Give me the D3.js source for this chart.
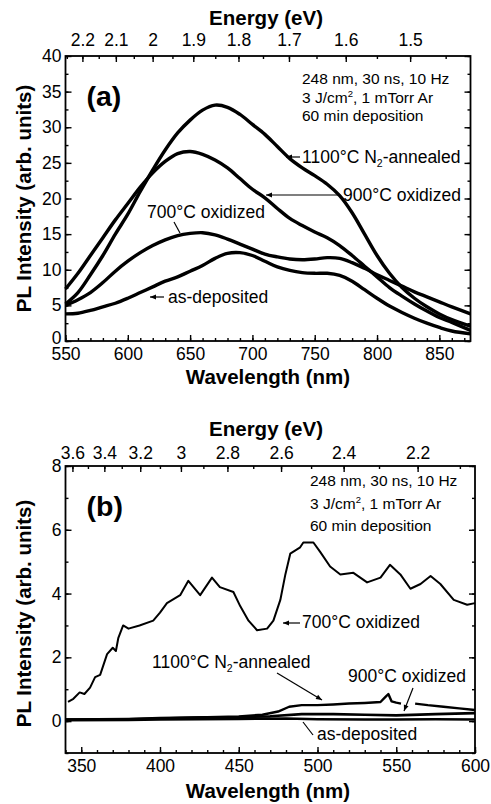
<!DOCTYPE html>
<html><head><meta charset="utf-8">
<script src="https://cdn.jsdelivr.net/npm/d3@7"></script>
<style>
body{margin:0;background:#fff;}
svg{display:block;font-family:"Liberation Sans",Arial,sans-serif;}
</style></head>
<body><svg id="c" width="491" height="804"></svg>
<script>
// ---------- Panel (a) data ----------
const aWavelengths = [550,560,570,580,590,600,610,620,630,640,650,660,670,680,690,700,710,720,730,740,750,760,770,780,790,800,810,820,830,840,850,860,875];
const a1100 = [5.2,6.8,9.3,12,15,17.8,21,24,26.8,29.2,31,32.4,33.1,32.8,31.8,30.4,29,27.3,25.6,24.3,23.2,22,20.4,18,15,12,9.5,7.5,6,4.8,3.8,3,2.1];
const a900  = [7.3,9.5,12,14.5,17,19.3,21.6,23.6,25.2,26.3,26.6,26.2,25.4,24.3,22.8,21.3,20.1,18.6,17.2,16.2,15.3,14.5,13.4,12,10.5,9,7.5,6.3,5.2,4.2,3.3,2.6,1.5];
const a700  = [5.0,5.8,6.8,8.2,9.8,11.2,12.4,13.4,14.2,14.8,15.1,15.2,14.9,14.3,13.6,12.9,12.2,11.8,11.5,11.4,11.5,11.7,11.6,11.0,10.2,9.3,8.5,7.7,6.9,6.2,5.5,4.8,3.8];
const aAsDep= [3.8,3.9,4.3,4.8,5.3,6.0,6.8,7.6,8.4,9.0,9.8,10.6,11.6,12.3,12.4,12.0,11.2,10.4,9.9,9.6,9.5,9.5,9.2,8.4,7.2,6.0,4.9,4.0,3.2,2.5,1.9,1.4,1.0];
const aXTicks = [550,600,650,700,750,800,850];
const aYTicks = [0,5,10,15,20,25,30,35,40];
const aETicks = [2.2,2.1,2.0,1.9,1.8,1.7,1.6,1.5];
const aELabels = ["2.2","2.1","2","1.9","1.8","1.7","1.6","1.5"];

// ---------- Panel (b) data ----------
const b700W = [341.6,345,349,352,355.6,358.8,362,366.4,370,372,373.5,376.6,380,387,395.7,400,404.4,412.8,418,425.5,433,438,446.6,451,456.2,461.6,468,472,476.4,479.6,482.7,489,491,497.4,501.8,508,514.5,522.8,531.5,540,546,552.6,559,565.4,571.8,578,586.5,595,600];
const b700V = [0.6,0.7,0.9,0.85,1.05,1.38,1.45,2.1,2.3,2.2,2.6,3.0,2.9,3.0,3.15,3.4,3.7,3.95,4.4,3.95,4.5,4.2,4.05,3.6,3.15,2.85,2.9,3.15,3.8,4.6,5.25,5.45,5.6,5.6,5.3,4.85,4.6,4.65,4.35,4.5,4.9,4.6,4.15,4.3,4.55,4.3,3.8,3.65,3.7];
const b1100W = [340,380,400,430,450,465,475,482,490,500,510,520,530,540,543,545,547,550,553,557,562,570,580,590,600];
const b1100V = [0.05,0.07,0.1,0.12,0.15,0.2,0.3,0.45,0.5,0.5,0.52,0.55,0.57,0.6,0.75,0.85,0.62,0.58,0.55,null,0.55,0.5,0.45,0.4,0.35];
const b900W = [340,380,400,430,450,470,490,510,530,550,575,600];
const b900V = [0.05,0.06,0.08,0.12,0.12,0.15,0.22,0.22,0.2,0.18,0.22,0.25];
const bAsDepW = [340,380,400,450,480,500,530,550,575,600];
const bAsDepV = [0.03,0.04,0.05,0.07,0.08,0.06,0.05,0.05,0.06,0.05];
const bXTicks = [350,400,450,500,550,600];
const bYTicks = [0,2,4,6,8];
const bETicks = [3.6,3.4,3.2,3.0,2.8,2.6,2.4,2.2];
const bELabels = ["3.6","3.4","3.2","3","2.8","2.6","2.4","2.2"];

const HC = 1239.84;
const svg = d3.select("#c");
const FONT = "'Liberation Sans', Arial, sans-serif";
const TICKFS = 17.5, LABFS = 17.5, TITLEFS = 20.5;

function panel(cfg){
  const x = d3.scaleLinear().domain(cfg.xDom).range([cfg.left, cfg.right]);
  const y = d3.scaleLinear().domain(cfg.yDom).range([cfg.bottom, cfg.top]);
  const g = svg.append("g");

  const styleAxis = sel => {
    sel.select(".domain").remove();
    sel.selectAll("line").attr("stroke","#000").attr("stroke-width",1.4);
    sel.selectAll("text").attr("font-size",TICKFS).attr("font-family",FONT).attr("fill","#000");
  };
  // bottom axis
  g.append("g").attr("transform",`translate(0,${cfg.bottom})`)
    .call(d3.axisBottom(x).tickValues(cfg.xMinor).tickSize(-3).tickFormat(""))
    .call(styleAxis);
  g.append("g").attr("transform",`translate(0,${cfg.bottom})`)
    .call(d3.axisBottom(x).tickValues(cfg.xTicks).tickSize(-6).tickPadding(7).tickFormat(d3.format("d")))
    .call(styleAxis);
  // top energy axis
  const eL = cfg.eTicks.map(e=>HC/e);
  const eMinor = cfg.eMinor.map(e=>HC/e).filter(l=>l>=cfg.xDom[0]&&l<=cfg.xDom[1]);
  g.append("g").attr("transform",`translate(0,${cfg.top})`)
    .call(d3.axisTop(x).tickValues(eMinor).tickSize(-3).tickFormat(""))
    .call(styleAxis);
  g.append("g").attr("transform",`translate(0,${cfg.top})`)
    .call(d3.axisTop(x).tickValues(eL).tickSize(-6).tickPadding(cfg.ePad).tickFormat((d,i)=>cfg.eLabels[i]))
    .call(styleAxis);
  // left axis
  g.append("g").attr("transform",`translate(${cfg.left},0)`)
    .call(d3.axisLeft(y).tickValues(cfg.yMinor).tickSize(-3).tickFormat(""))
    .call(styleAxis);
  g.append("g").attr("transform",`translate(${cfg.left},0)`)
    .call(d3.axisLeft(y).tickValues(cfg.yTicks).tickSize(-6).tickPadding(4).tickFormat(d3.format("d")))
    .call(styleAxis)
    .call(sel => sel.selectAll(".tick text").filter(d => d === cfg.yDom[0]).attr("dy","0.12em"));
  // right axis
  g.append("g").attr("transform",`translate(${cfg.right},0)`)
    .call(d3.axisRight(y).tickValues(cfg.yMinor).tickSize(-3).tickFormat(""))
    .call(styleAxis);
  g.append("g").attr("transform",`translate(${cfg.right},0)`)
    .call(d3.axisRight(y).tickValues(cfg.yTicks).tickSize(-6).tickFormat(""))
    .call(styleAxis);
  // frame
  g.append("rect").attr("x",cfg.left).attr("y",cfg.top)
    .attr("width",cfg.right-cfg.left).attr("height",cfg.bottom-cfg.top)
    .attr("fill","none").attr("stroke","#000").attr("stroke-width",1.8);

  // axis titles
  g.append("text").attr("x",268).attr("y",cfg.xTitleY)
    .attr("text-anchor","middle").attr("font-size",TITLEFS).attr("font-weight","bold")
    .attr("font-family",FONT).text("Wavelength (nm)");
  g.append("text").attr("x",266).attr("y",cfg.eTitleY)
    .attr("text-anchor","middle").attr("font-size",TITLEFS).attr("font-weight","bold")
    .attr("font-family",FONT).text("Energy (eV)");
  g.append("text").attr("transform",`translate(31,${(cfg.top+cfg.bottom)/2+cfg.yTitleShift}) rotate(-90)`)
    .attr("text-anchor","middle").attr("font-size",TITLEFS).attr("font-weight","bold")
    .attr("font-family",FONT).text("PL Intensity (arb. units)");
  // panel letter
  g.append("text").attr("x",cfg.left+21).attr("y",cfg.top+50)
    .attr("font-size",28.5).attr("font-weight","bold").attr("font-family",FONT).text(cfg.letter);
  // conditions
  g.append("text").attr("font-size",15.5).attr("font-family",FONT)
    .attr("x",cfg.condX).attr("y",cfg.top+cfg.condDy).text("248 nm, 30 ns, 10 Hz");
  const t2 = g.append("text").attr("font-size",15.5).attr("font-family",FONT)
    .attr("x",cfg.condX).attr("y",cfg.top+cfg.condDy+cfg.condSp);
  t2.append("tspan").text("3 J/cm");
  t2.append("tspan").attr("font-size",9.5).attr("dy",-6).text("2");
  t2.append("tspan").attr("dy",6).text(", 1 mTorr Ar");
  g.append("text").attr("font-size",15.5).attr("font-family",FONT)
    .attr("x",cfg.condX).attr("y",cfg.top+cfg.condDy+2*cfg.condSp).text("60 min deposition");

  return {x,y,g};
}

function label(g, x, y, parts){
  const t = g.append("text").attr("x",x).attr("y",y).attr("font-size",LABFS).attr("font-family",FONT);
  parts.forEach(p=>{
    const s = t.append("tspan").text(p.t);
    if(p.sub){ s.attr("font-size",10.5).attr("dy",4); }
    if(p.back){ s.attr("dy",-4); }
  });
  return t;
}
function arrow(g, x1,y1,x2,y2, head){
  g.append("line").attr("x1",x1).attr("y1",y1).attr("x2",x2).attr("y2",y2)
    .attr("stroke","#000").attr("stroke-width",1.2);
  if(head){
    const a = Math.atan2(y2-y1,x2-x1), L=6, w=2.5;
    const p = [[x2,y2],[x2-L*Math.cos(a)+w*Math.sin(a), y2-L*Math.sin(a)-w*Math.cos(a)],
               [x2-L*Math.cos(a)-w*Math.sin(a), y2-L*Math.sin(a)+w*Math.cos(a)]];
    g.append("path").attr("d","M"+p.join("L")+"Z").attr("fill","#000");
  }
}

// ---------- draw panel a ----------
const A = panel({xDom:[550,875], yDom:[0,40], left:65.5, right:470.5, top:56, bottom:341,
  xTicks:aXTicks, xMinor:d3.range(550,876,10), yTicks:aYTicks, yMinor:d3.range(0,40.1,2.5),
  eTicks:aETicks, eLabels:aELabels, eMinor:d3.range(1.45,2.3,0.05), ePad:10,
  xTitleY:384, eTitleY:25, yTitleShift:0, letter:"(a)", condX:302, condDy:28, condSp:18.5});
const lineA = d3.line().x((d,i)=>A.x(aWavelengths[i])).y(d=>A.y(d)).curve(d3.curveCatmullRom);
[a1100,a900,a700,aAsDep].forEach(s=>{
  A.g.append("path").attr("d",lineA(s)).attr("fill","none").attr("stroke","#000")
    .attr("stroke-width",3.4).attr("stroke-linejoin","round");
});
label(A.g, 302, 163, [{t:"1100°C N"},{t:"2",sub:true},{t:"-annealed",back:true}]);
arrow(A.g, 300,157,286,157,true);
label(A.g, 343, 201, [{t:"900°C oxidized"}]);
arrow(A.g, 340,195,266,195,true);
label(A.g, 147, 218, [{t:"700°C oxidized"}]);
arrow(A.g, 174,222,180,233,false);
label(A.g, 168, 303, [{t:"as-deposited"}]);
arrow(A.g, 164,297,150,297,true);

// ---------- draw panel b ----------
const B = panel({xDom:[340,600], yDom:[-1,8], left:65.5, right:475, top:466, bottom:753,
  xTicks:bXTicks, xMinor:d3.range(340,601,10), yTicks:bYTicks, yMinor:d3.range(-1,8.1,1),
  eTicks:bETicks, eLabels:bELabels, eMinor:d3.range(2.1,3.7,0.1), ePad:7,
  xTitleY:798, eTitleY:436, yTitleShift:4, letter:"(b)", condX:310, condDy:20, condSp:22.5});
function drawB(W,V,sw){
  const ln = d3.line().defined(d=>d!==null).x((d,i)=>B.x(W[i])).y(d=>B.y(d)).curve(d3.curveLinear);
  B.g.append("path").attr("d",ln(V)).attr("fill","none").attr("stroke","#000")
    .attr("stroke-width",sw).attr("stroke-linejoin","round");
}
drawB(bAsDepW,bAsDepV,2.6);
drawB(b900W,b900V,2.6);
drawB(b1100W,b1100V,2.4);
drawB(b700W,b700V,2.0);
label(B.g, 302, 628, [{t:"700°C oxidized"}]);
arrow(B.g, 300,623,283,623,true);
label(B.g, 152, 668, [{t:"1100°C N"},{t:"2",sub:true},{t:"-annealed",back:true}]);
arrow(B.g, 277,673,322,700,true);
label(B.g, 348, 682, [{t:"900°C oxidized"}]);
arrow(B.g, 413,688,404,711,true);
label(B.g, 317, 740, [{t:"as-deposited"}]);
arrow(B.g, 313,735,303,722,false);
</script>
</body></html>
